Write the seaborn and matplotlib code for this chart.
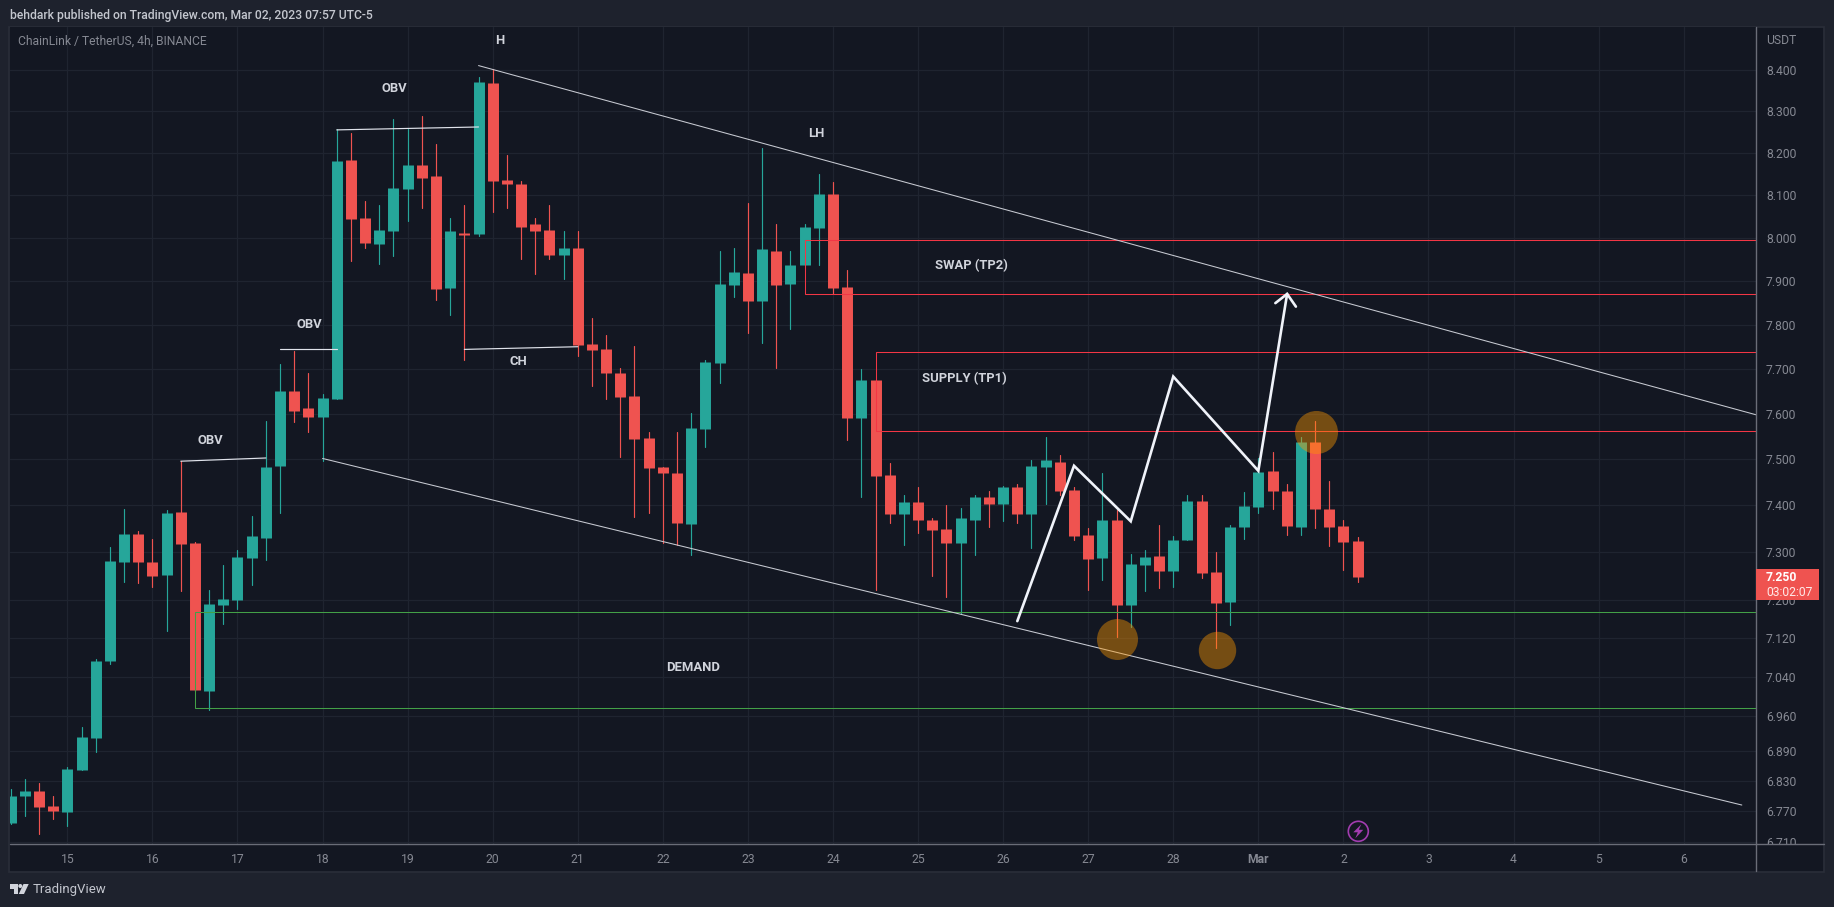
import numpy as np
import pandas as pd
import matplotlib
matplotlib.use("Agg")
import matplotlib.pyplot as plt
from matplotlib.lines import Line2D
from matplotlib.patches import Circle, Polygon, Rectangle
from matplotlib.transforms import Bbox, IdentityTransform
import seaborn as sns

# 4h candles, bar 0 is the 15th at 00:00
first_bar = -4
bar_open = [6.747, 6.800, 6.809, 6.781, 6.769, 6.851, 6.915, 7.073, 7.279, 7.339, 7.279, 7.251,
            7.386, 7.320, 7.010, 7.188, 7.199, 7.288, 7.330, 7.486, 7.650, 7.612, 7.592, 7.632,
            8.184, 8.045, 7.985, 8.015, 8.115, 8.170, 8.144, 7.883, 8.010, 8.008, 8.369, 8.136,
            8.127, 8.031, 8.019, 7.960, 7.975, 7.757, 7.744, 7.692, 7.640, 7.546, 7.483, 7.470,
            7.361, 7.566, 7.714, 7.890, 7.918, 7.853, 7.970, 7.892, 7.936, 8.022, 8.103, 7.885,
            7.590, 7.676, 7.465, 7.382, 7.407, 7.369, 7.350, 7.320, 7.369, 7.418, 7.403, 7.440,
            7.382, 7.483, 7.494, 7.433, 7.337, 7.288, 7.369, 7.188, 7.273, 7.292, 7.260, 7.326,
            7.409, 7.258, 7.194, 7.354, 7.396, 7.474, 7.431, 7.354, 7.537, 7.392, 7.356, 7.324]
bar_high = [6.813, 6.833, 6.825, 6.800, 6.857, 6.938, 7.077, 7.311, 7.392, 7.345, 7.328, 7.390,
            7.496, 7.322, 7.220, 7.273, 7.305, 7.377, 7.585, 7.712, 7.740, 7.692, 7.645, 8.256,
            8.248, 8.085, 8.077, 8.282, 8.256, 8.289, 8.222, 8.045, 8.077, 8.382, 8.402, 8.196,
            8.132, 8.045, 8.077, 8.015, 8.015, 7.815, 7.776, 7.703, 7.752, 7.559, 7.483, 7.561,
            7.601, 7.720, 7.970, 7.975, 8.080, 8.211, 8.031, 7.970, 8.031, 8.149, 8.130, 7.924,
            7.701, 7.676, 7.492, 7.422, 7.440, 7.373, 7.401, 7.394, 7.422, 7.431, 7.442, 7.446,
            7.498, 7.549, 7.509, 7.440, 7.352, 7.470, 7.390, 7.296, 7.305, 7.358, 7.335, 7.422,
            7.422, 7.301, 7.358, 7.428, 7.503, 7.516, 7.446, 7.549, 7.585, 7.453, 7.369, 7.332]
bar_low = [6.745, 6.760, 6.725, 6.755, 6.741, 6.851, 6.887, 7.067, 7.237, 7.235, 7.227, 7.135,
           7.218, 7.010, 6.973, 7.150, 7.180, 7.230, 7.283, 7.384, 7.583, 7.560, 7.496, 7.632,
           7.945, 7.975, 7.940, 7.957, 8.038, 8.070, 7.856, 7.821, 7.720, 8.005, 8.060, 8.070,
           7.950, 7.915, 7.950, 7.904, 7.728, 7.663, 7.634, 7.505, 7.376, 7.384, 7.320, 7.315,
           7.295, 7.526, 7.669, 7.862, 7.782, 7.759, 7.703, 7.789, 7.936, 7.936, 7.871, 7.543,
           7.418, 7.220, 7.363, 7.316, 7.340, 7.250, 7.205, 7.170, 7.294, 7.354, 7.367, 7.362,
           7.310, 7.403, 7.422, 7.326, 7.220, 7.241, 7.122, 7.143, 7.218, 7.224, 7.226, 7.326,
           7.245, 7.100, 7.147, 7.328, 7.384, 7.392, 7.337, 7.337, 7.352, 7.314, 7.262, 7.237]
bar_close = [6.800, 6.809, 6.779, 6.771, 6.853, 6.917, 7.073, 7.281, 7.339, 7.279, 7.249, 7.384,
             7.318, 7.012, 7.190, 7.201, 7.290, 7.335, 7.484, 7.650, 7.607, 7.594, 7.636, 8.180,
             8.043, 7.987, 8.019, 8.117, 8.170, 8.141, 7.881, 8.015, 8.007, 8.372, 8.134, 8.127,
             8.026, 8.015, 7.960, 7.975, 7.753, 7.742, 7.690, 7.638, 7.544, 7.481, 7.470, 7.363,
             7.568, 7.716, 7.892, 7.920, 7.853, 7.973, 7.890, 7.936, 8.024, 8.103, 7.883, 7.590,
             7.676, 7.463, 7.382, 7.407, 7.369, 7.348, 7.320, 7.373, 7.418, 7.403, 7.440, 7.382,
             7.485, 7.498, 7.431, 7.335, 7.286, 7.369, 7.188, 7.275, 7.290, 7.260, 7.326, 7.409,
             7.256, 7.192, 7.354, 7.399, 7.472, 7.431, 7.356, 7.537, 7.392, 7.354, 7.322, 7.248]

# axis ticks
price_ticks = [8.4, 8.3, 8.2, 8.1, 8.0, 7.9, 7.8, 7.7, 7.6, 7.5, 7.4, 7.3, 7.2, 7.12, 7.04, 6.96, 6.89, 6.83, 6.77, 6.71]
day_bars = [0, 6, 12, 18, 24, 30, 36, 42, 48, 54, 60, 66, 72, 78, 84, 90, 96, 102, 108, 114]
day_labels = ["15", "16", "17", "18", "19", "20", "21", "22", "23", "24", "25", "26", "27", "28",
              "Mar", "2", "3", "4", "5", "6"]

# drawings, as (bar, price)
upper_trend_x, upper_trend_y = [29, 119.1], [8.411, 7.598]
lower_trend_x, lower_trend_y = [18, 118.1], [7.502, 6.782]
obv_x = [[8, 14], [15, 19], [19, 29], [28, 36]]
obv_y = [[7.496, 7.503], [7.744, 7.744], [8.255, 8.262], [7.744, 7.750]]
zigzag_x = [67.0, 71.0, 75.0, 78.0, 84.0, 86.03]
zigzag_y = [7.155, 7.486, 7.366, 7.683, 7.475, 7.870]
arrow_x = [85.2, 86.03, 86.65]
arrow_y = [7.849, 7.870, 7.841]
swap_left, swap_top, swap_bottom = 52.05, 7.995, 7.870
supply_left, supply_top, supply_bottom = 57.05, 7.739, 7.563
demand_left, demand_top, demand_bottom = 9.03, 7.175, 6.976
circle_x = [74.05, 81.1, 88.08]
circle_y = [7.118, 7.095, 7.559]

label_text = ["H", "OBV", "OBV", "OBV", "CH", "LH", "SWAP (TP2)", "SUPPLY (TP1)", "DEMAND"]
label_x = [30.5, 23.04, 17.05, 10.06, 31.8, 52.8, 63.8, 63.3, 44.1]
label_y = [8.472, 8.356, 7.800, 7.542, 7.716, 8.246, 7.936, 7.678, 7.059]

last_price = 7.25
countdown = "03:02:07"

W, H = 1834, 907
BG = "#131722"
FRAME = "#1e222d"
GRID = "#1f2430"
GREEN = "#26a69a"
RED = "#ef5350"
LINE_RED = "#f23645"
LINE_GREEN = "#43a047"
TREND = "#c8cbd3"
TICK = "#868993"
AXIS = "#6a6d78"
FONT = ["Roboto", "DejaVu Sans"]
SMALL = 8.7

sns.set_theme(style="dark", rc={"axes.facecolor": BG, "figure.facecolor": FRAME})
plt.rcParams["font.family"] = FONT

fig = plt.figure(figsize=(W / 100, H / 100), dpi=100)
fig.patch.set_facecolor(FRAME)
left, right, top, bottom = 9.5, 1756, 27, 844
ax = fig.add_axes([left / W, 1 - bottom / H, (right - left) / W, (bottom - top) / H])
ax.set_yscale("log")

pix = IdentityTransform()


def fy(y):
    return H - y


# chart panel behind the axes
fig.add_artist(Rectangle((8.5, fy(871.5)), 1815, 845, transform=pix, facecolor=BG,
                         edgecolor="#2a2e39", linewidth=1.2, zorder=-1))

# candles
bars = np.arange(first_bar, first_bar + len(bar_open))
candles = pd.DataFrame({"bar": bars, "open": bar_open, "high": bar_high, "low": bar_low, "close": bar_close})
candles["side"] = np.where(candles["close"] >= candles["open"], "up", "down")
palette = {"up": GREEN, "down": RED}

wicks = candles.melt(id_vars=["bar", "side"], value_vars=["low", "high"], value_name="price")
bodies = candles.melt(id_vars=["bar", "side"], value_vars=["open", "close"], value_name="price")
sns.lineplot(data=wicks, x="bar", y="price", hue="side", units="bar", estimator=None, palette=palette,
             linewidth=0.85, legend=False, sort=False, ax=ax, zorder=3)
sns.lineplot(data=bodies, x="bar", y="price", hue="side", units="bar", estimator=None, palette=palette,
             linewidth=7.9, solid_capstyle="butt", legend=False, sort=False, ax=ax, zorder=4)


def draw_path(xs, ys, color, width, z=5):
    sns.lineplot(x=xs, y=ys, color=color, linewidth=width, estimator=None, sort=False, errorbar=None,
                 ax=ax, zorder=z, solid_capstyle="round", solid_joinstyle="miter")


# zones, open on the right side
x_end = 119.1
for zone_left, zone_top, zone_bottom, col in [(swap_left, swap_top, swap_bottom, LINE_RED),
                                              (supply_left, supply_top, supply_bottom, LINE_RED),
                                              (demand_left, demand_top, demand_bottom, LINE_GREEN)]:
    draw_path([x_end, zone_left, zone_left, x_end], [zone_top, zone_top, zone_bottom, zone_bottom], col, 0.75)

draw_path(upper_trend_x, upper_trend_y, TREND, 0.75)
draw_path(lower_trend_x, lower_trend_y, TREND, 0.75)
for xs, ys in zip(obv_x, obv_y):
    draw_path(xs, ys, "#e0e3eb", 0.85)
draw_path(zigzag_x, zigzag_y, "#f0f3fa", 1.9, z=6)
draw_path(arrow_x, arrow_y, "#f0f3fa", 1.9, z=6)

for cx, cy, size in zip(circle_x, circle_y, [870, 725, 960]):
    sns.scatterplot(x=[cx], y=[cy], s=size, color="#ff9800", alpha=0.42, linewidth=0, ax=ax, zorder=7)

for txt, lx, ly in zip(label_text, label_x, label_y):
    ax.text(lx, ly, txt, color="#d1d4dc", fontsize=9.4, fontweight="bold", ha="center", va="center", zorder=8)

# axes
ax.set_xlim(-4.08, 119.1)
ax.set_ylim(6.7055, 8.506)
ax.set_xlabel("")
ax.set_ylabel("")
ax.minorticks_off()
ax.yaxis.tick_right()
ax.set_yticks(price_ticks)
ax.set_yticklabels([f"{p:.3f}" for p in price_ticks])
ax.set_xticks(day_bars)
ax.set_xticklabels(day_labels)
ax.yaxis.set_minor_locator(plt.NullLocator())
ax.tick_params(axis="y", length=0, pad=7.2, labelsize=SMALL, labelcolor=TICK)
ax.tick_params(axis="x", length=0, pad=6.8, labelsize=SMALL, labelcolor=TICK)
ax.grid(True, color=GRID, linewidth=0.9)
ax.set_axisbelow(True)
for side in ax.spines:
    ax.spines[side].set_visible(False)
for lab in ax.get_xticklabels():
    if lab.get_text() == "Mar":
        lab.set_fontweight("bold")
# lowest price label is cut by the time axis
clip = Bbox([[1756, fy(844)], [1824, fy(27)]])
for lab in ax.get_yticklabels():
    lab.set_clip_box(clip)
    lab.set_clip_on(True)

# axis borders
fig.add_artist(Line2D([left, 1824], [fy(844), fy(844)], transform=pix, color=AXIS, linewidth=1.0, zorder=3))
fig.add_artist(Line2D([1756, 1756], [fy(27), fy(871)], transform=pix, color=AXIS, linewidth=1.0, zorder=3))

# texts
fig.text(9.5 / W, 1 - 15.5 / H, "behdark published on TradingView.com, Mar 02, 2023 07:57 UTC-5",
         color="#c4c7cf", fontsize=SMALL, va="center", fontweight="medium")
fig.text(18 / W, 1 - 41.5 / H, "ChainLink / TetherUS, 4h, BINANCE", color=TICK, fontsize=SMALL, va="center")
fig.text(1766 / W, 1 - 41 / H, "USDT", color=TICK, fontsize=SMALL, va="center")

# last price tag
fig.add_artist(Rectangle((1756, fy(600)), 63, 31, transform=pix, facecolor=RED, edgecolor="none", zorder=5))
fig.text(1766 / W, 1 - 577.5 / H, f"{last_price:.3f}", color="white", fontsize=SMALL, fontweight="bold",
         va="center", zorder=6)
fig.text(1766 / W, 1 - 592 / H, countdown, color="#ffe9e8", fontsize=SMALL, va="center", zorder=6)

# lightning badge
fig.add_artist(Circle((1358.3, fy(831.3)), 10, transform=pix, facecolor="none", edgecolor="#a23cb0",
                      linewidth=1.2, zorder=6))
bolt = [(3, -7), (-5, 1), (-0.5, 1), (-3, 7), (5, -1.5), (0.5, -1.5)]
fig.add_artist(Polygon([(1358.3 + bx, fy(831.3 + by)) for bx, by in bolt], transform=pix,
                       facecolor="#a23cb0", edgecolor="none", zorder=6))

# TradingView logo
logo = "#d1d4dc"
fig.add_artist(Polygon([(10, fy(884)), (17.5, fy(884)), (17.5, fy(894)), (14, fy(894)), (14, fy(888.5)), (10, fy(888.5))],
                       transform=pix, facecolor=logo, edgecolor="none"))
fig.add_artist(Circle((20.3, fy(886)), 2, transform=pix, facecolor=logo, edgecolor="none"))
fig.add_artist(Polygon([(23.5, fy(884)), (28.7, fy(884)), (24, fy(894)), (18.8, fy(894))], transform=pix,
                       facecolor=logo, edgecolor="none"))
fig.text(33 / W, 1 - 889 / H, "TradingView", color="#c4c7cf", fontsize=9.5, va="center")

fig.savefig("out.png", dpi=100, facecolor=FRAME)
